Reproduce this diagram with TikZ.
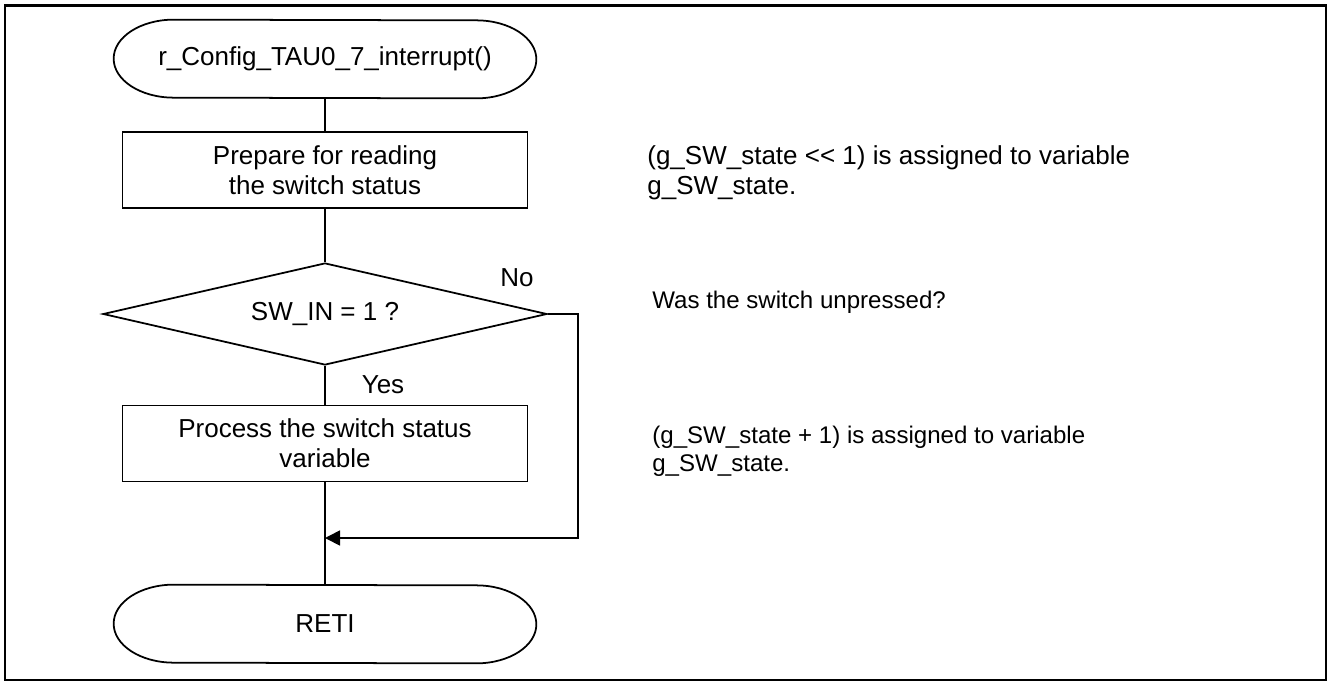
\documentclass[tikz,border=0pt]{standalone}
\usepackage{fontspec}
\setmainfont{Liberation Sans}
\usetikzlibrary{shapes.geometric}
\usetikzlibrary{positioning}
\usetikzlibrary{arrows.meta}

% outline of a terminal node: straight sides with elliptic ends
\newcommand{\termline}[1]{%
  \draw[line width=1pt] ([xshift=1.2cm]#1.north west)
    arc[start angle=90, end angle=270, x radius=1.2cm, y radius=0.78cm]
    -- ([xshift=-1.2cm]#1.south east)
    arc[start angle=-90, end angle=90, x radius=1.2cm, y radius=0.78cm] -- cycle;}

\begin{document}
\begin{tikzpicture}[
    every node/.style={font=\fontsize{14.8pt}{17.1pt}\selectfont},
    terminal/.style={minimum width=8.44cm, minimum height=1.56cm, inner sep=0pt},
    procbox/.style={draw, rectangle, line width=1pt, minimum width=8.1cm, minimum height=1.52cm, align=center, inner sep=0pt},
    decision/.style={draw, diamond, line width=1pt, shape aspect=4.35, minimum width=8.88cm, minimum height=2.04cm, inner sep=0pt},
    note/.style={anchor=west, align=left, inner sep=0pt, font=\fontsize{13.7pt}{15.9pt}\selectfont},
    line/.style={line width=1pt},
    arrow/.style={line width=1pt, -{Triangle[length=0.3cm, width=0.3cm]}}]
            \useasboundingbox (0,0) rectangle (26.56,13.64);
            % outer frame
            \draw[line width=1.4pt] (0.1,0.04) rectangle (26.52,13.53);

            % flow of the interrupt handler
            \node[terminal] (start) at (6.5,12.46) {r\_Config\_TAU0\_7\_interrupt()};
            \termline{start}
            \node[procbox] (prep) at (6.5,10.24) {Prepare for reading\\the switch status};
            \node[decision] (check) at (6.5,7.36) {SW\_IN = 1 ?};
            \node[procbox] (proc) at (6.5,4.77) {Process the switch status\\variable};
            \node[terminal] (reti) at (6.5,1.16) {RETI};
            \termline{reti}
            \coordinate (loop) at (11.56,2.88);

            \node (no) at (10.34,8.08) {No};
            \node (yes) at (7.66,5.94) {Yes};

            \draw[line] (start) -- (prep);
            \draw[line] (prep) -- (check);
            \draw[line] (check) -- (proc);
            \draw[line] (proc) -- (reti);
            \draw[arrow] (check.east) -| (loop) -- (loop -| reti.north);

            % comments on the right
            \node[note, font=\fontsize{14.8pt}{17.1pt}\selectfont] (note1) at (12.94,10.18) {(g\_SW\_state {<}{<} 1) is assigned to variable\\g\_SW\_state.};
            \node[note] (note2) at (13.04,7.60) {Was the switch unpressed?};
            \node[note] (note3) at (13.04,4.62) {(g\_SW\_state + 1) is assigned to variable\\g\_SW\_state.};
        \end{tikzpicture}
\end{document}
